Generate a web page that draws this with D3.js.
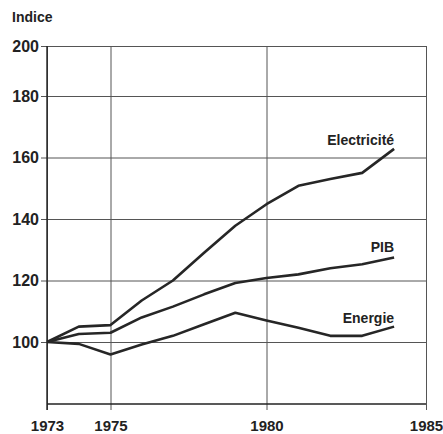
<!DOCTYPE html>
<html>
<head>
<meta charset="utf-8">
<script src="https://cdn.jsdelivr.net/npm/d3@7"></script>
<style>
  body { margin: 0; background: #fff; }
  svg { display: block; font-family: "Liberation Sans", Arial, sans-serif; }
  .axis text { font-weight: bold; fill: #222; }
  .axis line { stroke: #555; stroke-width: 1; }
  .axis path { display: none; }
</style>
</head>
<body>
<svg id="chart" width="443" height="434"></svg>
<script>
// years on the x axis
const years = [1973, 1974, 1975, 1976, 1977, 1978, 1979, 1980, 1981, 1982, 1983, 1984];
// index values (1973 = 100)
const electricite = [100, 105, 105.5, 113.5, 120, 129, 137.8, 144.8, 150.8, 153, 155, 162.8];
const pib = [100, 102.6, 103, 108, 111.5, 115.5, 119.2, 120.8, 122, 124, 125.3, 127.5];
const energie = [100, 99.4, 96, 99.2, 102, 105.8, 109.5, 107, 104.6, 102, 102, 105];
const seriesNames = ['Electricité', 'PIB', 'Energie'];
const xTicks = [1973, 1975, 1980, 1985];
const yTicks = [100, 120, 140, 160, 180, 200];

const svg = d3.select('#chart');

// the scanned chart isn't perfectly regular, so use piecewise scales
const x = d3.scaleLinear()
  .domain([1973, 1975, 1980, 1985])
  .range([47, 110.5, 266.5, 426]);
const y = d3.scaleLinear()
  .domain([80, 100, 180, 200])
  .range([404, 342, 96, 46]);

// horizontal grid + y labels (ticks run from the right border to a stub left of the axis)
svg.append('g')
  .attr('class', 'axis')
  .attr('transform', `translate(${x(1985)},0)`)
  .call(d3.axisLeft(y).tickValues(yTicks).tickSize(x(1985) - 41).tickPadding(2))
  .selectAll('text').attr('font-size', 16);

// vertical grid + x labels
svg.append('g')
  .attr('class', 'axis')
  .attr('transform', `translate(0,${y(200)})`)
  .call(d3.axisBottom(x).tickValues(xTicks).tickFormat(d3.format('d'))
    .tickSize(y(80) - y(200) + 6).tickPadding(10))
  .selectAll('text').attr('font-size', 15);

// axis lines
svg.append('line')
  .attr('x1', x(1973)).attr('x2', x(1973))
  .attr('y1', y(200)).attr('y2', y(80) + 6)
  .attr('stroke', '#222').attr('stroke-width', 1.4);
svg.append('line')
  .attr('x1', x(1973)).attr('x2', x(1985))
  .attr('y1', y(80)).attr('y2', y(80))
  .attr('stroke', '#222').attr('stroke-width', 1.4);

svg.append('text')
  .attr('x', 12).attr('y', 22)
  .attr('font-size', 14).attr('font-weight', 'bold').attr('fill', '#222')
  .text('Indice');

const line = d3.line()
  .x((d, i) => x(years[i]))
  .y(d => y(d));

const allSeries = [electricite, pib, energie];
svg.selectAll('path.serie')
  .data(allSeries)
  .enter()
  .append('path')
  .attr('class', 'serie')
  .attr('d', line)
  .attr('fill', 'none')
  .attr('stroke', '#262626')
  .attr('stroke-width', 2.6)
  .attr('stroke-linejoin', 'round');

// series labels, right-aligned just above the last point
const labelOffsets = [-4, -5, -4];
svg.selectAll('text.lbl')
  .data(seriesNames)
  .enter()
  .append('text')
  .attr('class', 'lbl')
  .attr('x', x(years[years.length - 1]))
  .attr('y', (d, i) => y(allSeries[i][years.length - 1]) + labelOffsets[i])
  .attr('text-anchor', 'end')
  .attr('font-size', 14)
  .attr('font-weight', 'bold')
  .attr('fill', '#222')
  .text(d => d);
</script>
</body>
</html>
